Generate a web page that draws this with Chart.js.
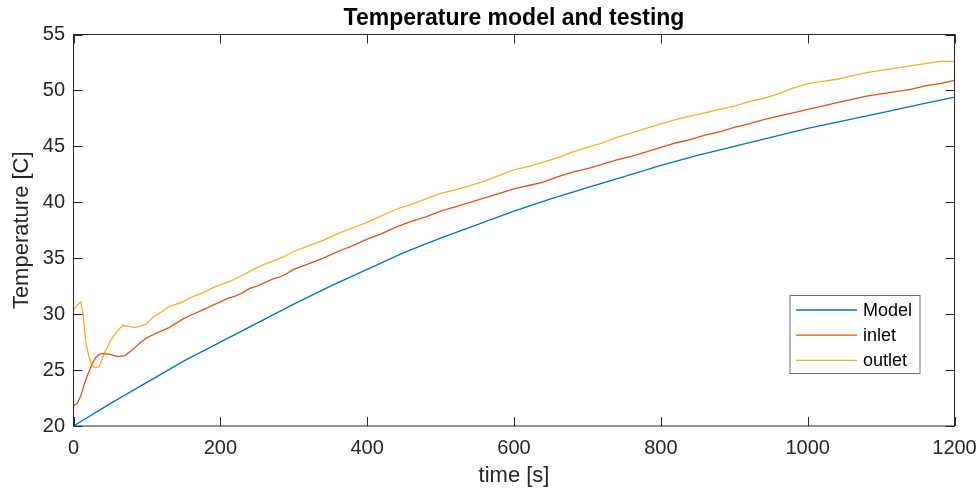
<!DOCTYPE html>
<html>
<head>
<meta charset="utf-8">
<script src="https://cdn.jsdelivr.net/npm/chart.js@4.4.1/dist/chart.umd.min.js"></script>
<style>
    html, body { margin: 0; padding: 0; background: #fff; }
    #wrap { width: 979px; height: 491px; }
</style>
</head>
<body>
<div id="wrap"><canvas id="tempChart" width="979" height="491"></canvas></div>
<script>
// values
const modelTime = [0, 50, 100, 150, 200, 250, 300, 350, 400, 450, 500, 550, 600, 650, 700, 750, 800, 850, 900, 950, 1000, 1050, 1100, 1150, 1200];
const modelTemp = [20.0, 22.0, 23.9, 25.8, 27.5, 29.2, 30.9, 32.5, 34.0, 35.5, 36.8, 38.0, 39.2, 40.3, 41.3, 42.3, 43.3, 44.2, 45.0, 45.8, 46.6, 47.3, 48.0, 48.7, 49.4];

const inletTime = [0, 5, 10, 15, 20, 25, 30, 35, 40, 50, 60, 70, 80, 90, 100, 110, 120, 130, 140, 150,
    160, 170, 180, 190, 200, 210, 220, 230, 240, 250, 260, 270, 280, 290, 300, 320, 340, 360, 380, 400,
    420, 440, 460, 480, 500, 520, 540, 560, 580, 600, 620, 640, 660, 680, 700, 720, 740, 760, 780, 800,
    820, 840, 860, 880, 900, 920, 940, 960, 980, 1000, 1020, 1040, 1060, 1080, 1100, 1120, 1140, 1160, 1180, 1200];
const inletTemp = [21.8, 22.0, 22.7, 23.8, 24.7, 25.5, 26.1, 26.4, 26.5, 26.4, 26.2, 26.3, 26.8, 27.4, 27.9, 28.2, 28.5, 28.8, 29.2, 29.6,
    29.9, 30.2, 30.5, 30.8, 31.1, 31.4, 31.6, 31.9, 32.3, 32.5, 32.8, 33.1, 33.3, 33.6, 34.0, 34.5, 35.0, 35.6, 36.1, 36.7,
    37.2, 37.8, 38.3, 38.7, 39.2, 39.6, 40.0, 40.4, 40.8, 41.2, 41.5, 41.8, 42.3, 42.7, 43.0, 43.4, 43.8, 44.1, 44.5, 44.9,
    45.3, 45.6, 46.0, 46.3, 46.7, 47.0, 47.4, 47.7, 48.0, 48.3, 48.6, 48.9, 49.2, 49.5, 49.7, 49.9, 50.1, 50.4, 50.6, 50.9];

const outletTime = [0, 5, 10, 13, 17, 21, 25, 30, 35, 42, 51, 60, 67, 75, 83, 90, 99, 108, 120, 131,
    140, 149, 160, 176, 188, 199, 215, 231, 245, 258, 270, 285, 300, 320, 340, 360, 380, 400, 420, 440,
    460, 480, 500, 520, 540, 560, 580, 600, 620, 640, 660, 680, 700, 720, 740, 760, 780, 800, 820, 840,
    860, 880, 900, 920, 940, 960, 980, 1000, 1020, 1040, 1060, 1080, 1100, 1120, 1140, 1160, 1180, 1200];
const outletTemp = [30.4, 30.8, 31.1, 30.0, 27.4, 26.2, 25.4, 25.2, 25.3, 26.5, 27.7, 28.5, 29.0, 28.9, 28.8, 28.9, 29.1, 29.7, 30.2, 30.7,
    30.9, 31.1, 31.5, 31.9, 32.3, 32.6, 33.0, 33.5, 34.0, 34.4, 34.7, 35.1, 35.6, 36.1, 36.6, 37.2, 37.7, 38.2, 38.8, 39.4,
    39.8, 40.3, 40.8, 41.1, 41.5, 41.9, 42.4, 42.9, 43.2, 43.6, 44.0, 44.5, 44.9, 45.3, 45.8, 46.2, 46.6, 47.0, 47.4, 47.7,
    48.0, 48.3, 48.6, 49.0, 49.3, 49.7, 50.2, 50.6, 50.8, 51.0, 51.3, 51.6, 51.8, 52.0, 52.2, 52.4, 52.6, 52.6];

const seriesLabels = ['Model', 'inlet', 'outlet'];
const seriesColors = ['#0072BD', '#D95319', '#EDB120'];

const toPoints = (xs, ys) => xs.map((x, i) => ({ x: x, y: ys[i] }));

const axisColor = '#262626';
const FONT = "'Liberation Sans', Arial, Helvetica, sans-serif";

// MATLAB style box, inward ticks and legend inside the axes
const matlabAxes = {
    id: 'matlabAxes',
    afterDraw(chart) {
        const ctx = chart.ctx;
        const a = chart.chartArea;
        const xs = chart.scales.x, ys = chart.scales.y;
        const tick = 9;
        ctx.save();
        ctx.strokeStyle = axisColor;
        ctx.lineWidth = 1;
        ctx.strokeRect(a.left, a.top, a.right - a.left, a.bottom - a.top);
        ctx.beginPath();
        xs.ticks.forEach(t => {
            const px = Math.round(xs.getPixelForValue(t.value)) + 0.5;
            ctx.moveTo(px, a.bottom); ctx.lineTo(px, a.bottom - tick);
            ctx.moveTo(px, a.top); ctx.lineTo(px, a.top + tick);
        });
        ys.ticks.forEach(t => {
            const py = Math.round(ys.getPixelForValue(t.value)) + 0.5;
            ctx.moveTo(a.left, py); ctx.lineTo(a.left + tick, py);
            ctx.moveTo(a.right, py); ctx.lineTo(a.right - tick, py);
        });
        ctx.stroke();

        // legend box
        const bx = a.right - 164.5, by = a.top + 261, bw = 130, bh = 78;
        ctx.fillStyle = '#fff';
        ctx.fillRect(bx, by, bw, bh);
        ctx.strokeStyle = '#6f6f6f';
        ctx.strokeRect(bx, by, bw, bh);
        ctx.font = '18px ' + FONT;
        ctx.textBaseline = 'middle';
        ctx.textAlign = 'left';
        chart.data.datasets.forEach((ds, i) => {
            const ry = by + 14.5 + i * 25.2;
            ctx.strokeStyle = ds.borderColor;
            ctx.lineWidth = 1.3;
            ctx.beginPath();
            ctx.moveTo(bx + 6, ry); ctx.lineTo(bx + 67, ry);
            ctx.stroke();
            ctx.fillStyle = '#000';
            ctx.fillText(ds.label, bx + 73, ry + 1);
        });
        ctx.restore();
    }
};

const ctx = document.getElementById('tempChart');
new Chart(ctx, {
    type: 'line',
    data: {
        datasets: [
            { label: seriesLabels[0], data: toPoints(modelTime, modelTemp) },
            { label: seriesLabels[1], data: toPoints(inletTime, inletTemp) },
            { label: seriesLabels[2], data: toPoints(outletTime, outletTemp) }
        ].map((ds, i) => Object.assign(ds, {
            borderColor: seriesColors[i],
            backgroundColor: seriesColors[i],
            borderWidth: 1.3,
            pointRadius: 0,
            tension: 0,
            fill: false
        }))
    },
    options: {
        responsive: false,
        animation: false,
        layout: { padding: { left: 0, right: 24.5, top: 0, bottom: 0 } },
        plugins: {
            legend: { display: false },
            tooltip: { enabled: false },
            title: { display: false }
        },
        scales: {
            x: {
                type: 'linear',
                min: 0,
                max: 1200,
                grid: { display: false, drawTicks: false },
                border: { display: false },
                ticks: { stepSize: 200, color: axisColor, padding: 10, maxRotation: 0,
                         callback: v => String(v),
                         font: { family: FONT, size: 20 } },
                title: { display: true, text: 'time [s]', color: axisColor,
                         font: { family: FONT, size: 22 }, padding: { top: 0, bottom: 1.6 } },
                afterFit(scale) {
                    scale.height = 65;
                    scale.paddingLeft = 0;
                    scale.paddingRight = 0;
                }
            },
            // top axis only carries the title so it centres over the plot
            xTop: {
                type: 'linear',
                position: 'top',
                min: 0,
                max: 1200,
                grid: { display: false, drawTicks: false },
                border: { display: false },
                ticks: { display: false },
                title: { display: true, text: 'Temperature model and testing', color: '#000',
                         font: { family: FONT, size: 23, weight: 'bold' }, padding: { top: 4.5, bottom: 0 } },
                afterFit(scale) {
                    scale.height = 34.5;
                    scale.paddingLeft = 0;
                    scale.paddingRight = 0;
                }
            },
            y: {
                min: 20,
                max: 55,
                grid: { display: false, drawTicks: false },
                border: { display: false },
                ticks: { stepSize: 5, color: axisColor, padding: 8.5,
                         font: { family: FONT, size: 20 } },
                title: { display: true, text: 'Temperature [C]', color: axisColor,
                         font: { family: FONT, size: 22 }, padding: { top: 9, bottom: 0 } },
                afterFit(scale) { scale.width = 73.5; }
            }
        }
    },
    plugins: [matlabAxes]
});
</script>
</body>
</html>
